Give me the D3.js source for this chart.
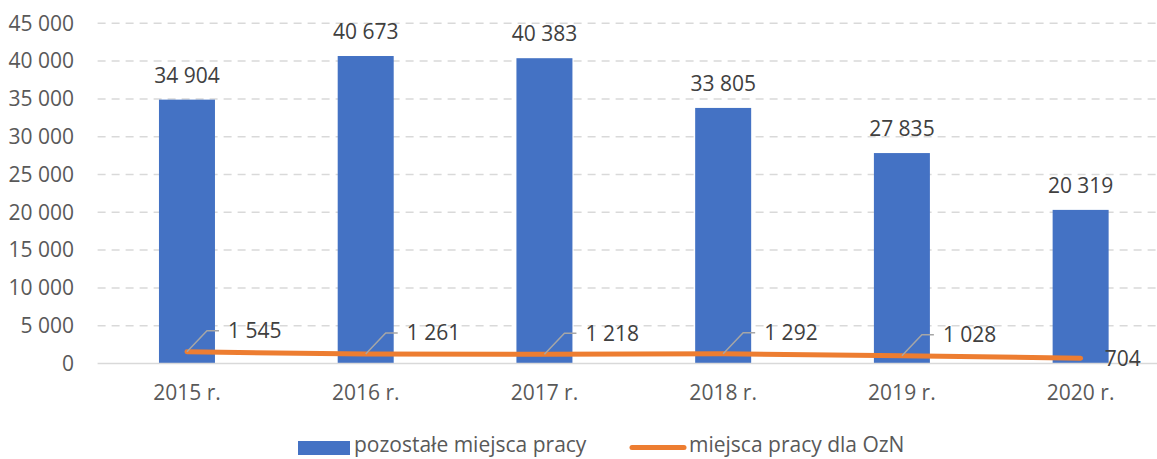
<!DOCTYPE html>
<html>
<head>
<meta charset="utf-8">
<script src="https://cdn.jsdelivr.net/npm/d3@7/dist/d3.min.js"></script>
<style>
    body { margin: 0; background: #ffffff; font-family: "Open Sans", sans-serif; }
    svg { display: block; }
</style>
</head>
<body>
<svg id="wykres"></svg>
<script>
    // dane
    const lata = ["2015 r.", "2016 r.", "2017 r.", "2018 r.", "2019 r.", "2020 r."];
    const pozostale = [34904, 40673, 40383, 33805, 27835, 20319];
    const dlaOzN = [1545, 1261, 1218, 1292, 1028, 704];
    const ticki = [0, 5000, 10000, 15000, 20000, 25000, 30000, 35000, 40000, 45000];
    const nazwySerii = ["pozostałe miejsca pracy", "miejsca pracy dla OzN"];

    const ancho = 1157, alto = 459;
    const margenes = { top: 23.3, left: 97.6, bottom: 363.5 };
    const prawaKrawedz = 1170; // obszar wykresu jest ucięty z prawej strony

    const fmt = v => d3.format(",")(v).replace(/,/g, " ");

    const svg = d3.select("#wykres").attr("width", ancho).attr("height", alto);

    const x = d3.scaleBand().domain(lata).range([margenes.left, prawaKrawedz]);
    const y = d3.scaleLinear().domain([0, 45000]).range([margenes.bottom, margenes.top]);
    const szerSlupka = 56;

    // siatka
    svg.append("g")
        .selectAll("line")
        .data(ticki.filter(t => t > 0))
        .join("line")
        .attr("x1", margenes.left).attr("x2", ancho)
        .attr("y1", d => y(d)).attr("y2", d => y(d))
        .attr("stroke", "#d9d9d9").attr("stroke-width", 1.5)
        .attr("stroke-dasharray", "8,6");

    // os Y
    const osY = d3.axisLeft(y).tickValues(ticki).tickFormat(fmt).tickSize(0).tickPadding(0);
    svg.append("g")
        .attr("transform", "translate(74,0)")
        .call(osY)
        .call(g => g.select(".domain").remove())
        .call(g => g.selectAll("text")
            .attr("font-family", "Open Sans").attr("font-size", 21).attr("fill", "#595959"));

    // slupki
    svg.append("g")
        .selectAll("rect")
        .data(pozostale)
        .join("rect")
        .attr("x", (d, i) => x(lata[i]) + x.bandwidth() / 2 - szerSlupka / 2)
        .attr("width", szerSlupka)
        .attr("y", d => y(d))
        .attr("height", d => y(0) - y(d))
        .attr("fill", "#4472c4");

    // os X
    const osX = d3.axisBottom(x).tickSize(0).tickPadding(22);
    svg.append("g")
        .attr("transform", `translate(0,${y(0)})`)
        .call(osX)
        .call(g => g.select(".domain").attr("stroke", "#d9d9d9").attr("stroke-width", 1.5)
            .attr("d", `M${margenes.left},0H${ancho}`))
        .call(g => g.selectAll("text")
            .attr("font-family", "Open Sans").attr("font-size", 21).attr("fill", "#595959"));

    // etykiety slupkow
    svg.append("g")
        .selectAll("text")
        .data(pozostale)
        .join("text")
        .attr("x", (d, i) => x(lata[i]) + x.bandwidth() / 2)
        .attr("y", d => y(d) - 17)
        .attr("text-anchor", "middle")
        .attr("font-size", 21).attr("fill", "#404040")
        .text(fmt);

    // linia
    const cx = i => x(lata[i]) + x.bandwidth() / 2;
    const linia = d3.line().x((d, i) => cx(i)).y(d => y(d));
    svg.append("path")
        .datum(dlaOzN)
        .attr("d", linia)
        .attr("fill", "none")
        .attr("stroke", "#ed7d31")
        .attr("stroke-width", 5)
        .attr("stroke-linecap", "round")
        .attr("stroke-linejoin", "round");

    // etykiety linii z odnosnikami
    const ostatni = dlaOzN.length - 1;
    const etykiety = svg.append("g");
    dlaOzN.forEach((d, i) => {
        const px = cx(i), py = y(d);
        if (i === ostatni) {
            etykiety.append("text")
                .attr("x", px + 24).attr("y", py)
                .attr("dy", "0.35em")
                .attr("font-size", 21).attr("fill", "#404040")
                .text(fmt(d));
            return;
        }
        etykiety.append("path")
            .attr("d", `M${px},${py}L${px + 20},${py - 21}H${px + 32}`)
            .attr("fill", "none").attr("stroke", "#a6a6a6").attr("stroke-width", 1.5);
        etykiety.append("text")
            .attr("x", px + 41).attr("y", py - 21)
            .attr("dy", "0.35em")
            .attr("font-size", 21).attr("fill", "#404040")
            .text(fmt(d));
    });

    // legenda
    const legenda = svg.append("g").attr("font-size", 21).attr("fill", "#595959");
    legenda.append("rect")
        .attr("x", 298).attr("y", 441).attr("width", 52).attr("height", 14)
        .attr("fill", "#4472c4");
    legenda.append("text").attr("x", 354).attr("y", 452).text(nazwySerii[0]);
    legenda.append("line")
        .attr("x1", 632).attr("x2", 684).attr("y1", 447.5).attr("y2", 447.5)
        .attr("stroke", "#ed7d31").attr("stroke-width", 5).attr("stroke-linecap", "round");
    legenda.append("text").attr("x", 689).attr("y", 452).text(nazwySerii[1]);
</script>
</body>
</html>
